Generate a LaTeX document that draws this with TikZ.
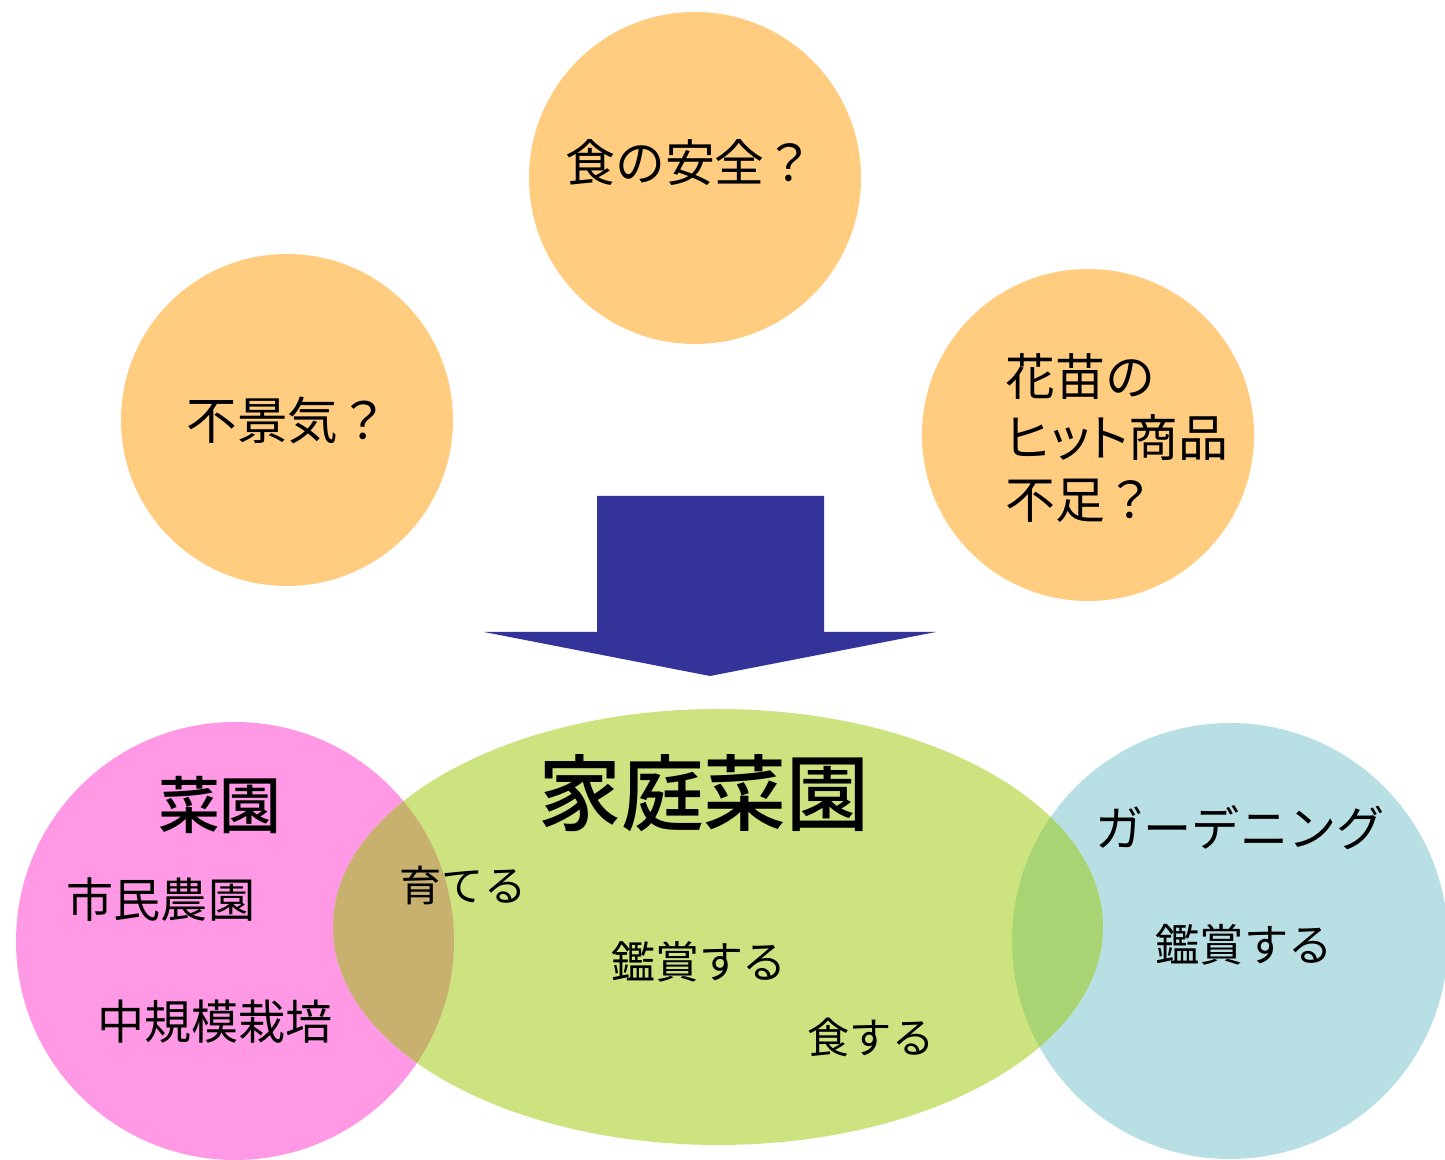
\documentclass[tikz,border=0pt]{standalone}
\usepackage{fontspec}
\newfontfamily\jp{Noto Sans CJK JP}
\newfontfamily\jpmed{Noto Sans CJK JP Medium}
\newfontfamily\jpprop[RawFeature=+palt]{Noto Sans CJK JP}
\usetikzlibrary{shapes.geometric}
\definecolor{bubble}{HTML}{FFCC80}
\definecolor{veggie}{HTML}{FF99E6}
\definecolor{homegarden}{HTML}{CCE380}
\definecolor{gardening}{HTML}{B8E0E4}
\definecolor{mixtan}{HTML}{C8B06F}
\definecolor{mixgreen}{HTML}{A9D474}
\definecolor{arrowblue}{HTML}{333399}
\begin{document}
\begin{tikzpicture}
  [every node/.style={font=\jp, inner sep=0pt},
   worry/.style={circle, fill=bubble, minimum size=3.32cm},
   txt/.style={font=\jp\fontsize{#1}{#1}\selectfont},
   txt/.default=14pt]
  \useasboundingbox (0,0) rectangle (14.45,11.6);

  % three worries
  \node[worry] (safety) at (6.95,9.82) {};
  \node[worry] (recession) at (2.87,7.40) {};
  \node[worry] (seedling) at (10.88,7.25) {};

  \node[txt=14.2pt] (safetytxt) at (6.90,9.97) {食の安全？};
  \node[txt=14.4pt] (recessiontxt) at (2.88,7.40) {不景気？};
  \node[anchor=west, align=left, font=\jp\fontsize{14.2pt}{17.6pt}\selectfont]
    (seedlingtxt) at (10.05,7.22) {花苗の\\{\jpprop ヒット}商品\\不足？};

  % big arrow
  \fill[arrowblue] (5.97,6.64) -- (8.24,6.64) -- (8.24,5.28) -- (9.36,5.28)
    -- (7.10,4.84) -- (4.84,5.28) -- (5.97,5.28) -- cycle;

  % three sets
  \fill[veggie] (2.35,2.19) circle (2.19);
  \fill[gardening] (12.30,2.19) circle (2.18);
  \fill[homegarden] (7.18,2.33) ellipse [x radius=3.85, y radius=2.18];
  \begin{scope}
    \clip (2.35,2.19) circle (2.19);
    \fill[mixtan] (7.18,2.33) ellipse [x radius=3.85, y radius=2.18];
  \end{scope}
  \begin{scope}
    \clip (12.30,2.19) circle (2.18);
    \fill[mixgreen] (7.18,2.33) ellipse [x radius=3.85, y radius=2.18];
  \end{scope}

  \node[font=\jpmed\fontsize{23.6pt}{23.6pt}\selectfont] (home) at (7.04,3.67) {家庭菜園};
  \node[font=\jpmed\fontsize{17.6pt}{17.6pt}\selectfont] (veg) at (2.20,3.55) {菜園};
  \node[txt=13.4pt] (civic) at (1.61,2.60) {市民農園};
  \node[txt=13.4pt] (midscale) at (2.15,1.38) {中規模栽培};
  \node[txt=12pt] (grow) at (4.63,2.75) {育てる};
  \node[txt=12.5pt] (view) at (6.99,1.98) {鑑賞する};
  \node[txt=12pt] (eat) at (8.71,1.23) {食する};
  \node[txt=13.7pt] (garden) at (12.40,3.32) {ガーデニング};
  \node[txt=12.6pt] (gview) at (12.44,2.15) {鑑賞する};

\end{tikzpicture}
\end{document}
